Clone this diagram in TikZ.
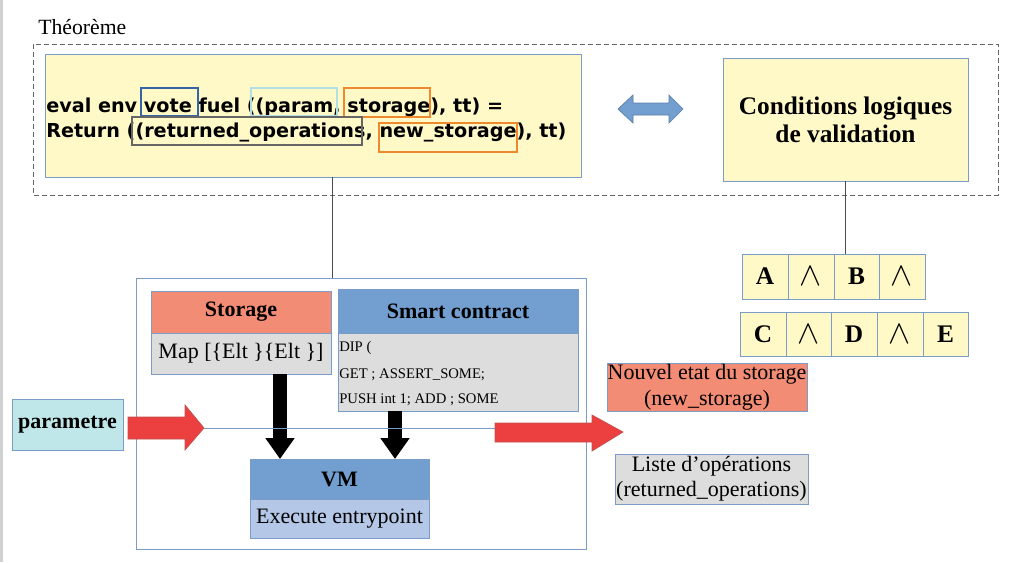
\documentclass[tikz,border=0pt]{standalone}
\usepackage{fontspec}
\setmainfont{Liberation Serif}
\newfontfamily\codefont{DejaVu Sans}
\usetikzlibrary{arrows.meta}
\definecolor{bordc}{HTML}{7A9CC6}
\definecolor{yel}{HTML}{FFF9C8}
\definecolor{salmon}{HTML}{F38C74}
\definecolor{hblue}{HTML}{729FCF}
\definecolor{lblue}{HTML}{B4C7E7}
\definecolor{lgray}{HTML}{DDDDDD}
\definecolor{cyanf}{HTML}{BFE6E8}
\definecolor{redA}{HTML}{EC3F3F}
\definecolor{redB}{HTML}{C0504D}
\definecolor{hlblue}{HTML}{3465A4}
\definecolor{hlcyan}{HTML}{B2DFE3}
\definecolor{hlorange}{HTML}{F0882E}
\definecolor{hlgray}{HTML}{666666}
\newcommand{\rbox}[7]{\node[#6, minimum width={0.75pt*(#4-#2)}, minimum height={0.75pt*(#5-#3)}] (#1) at ({(#2+#4)/2},{(#3+#5)/2}) {#7};}
\begin{document}
\begin{tikzpicture}[x=0.75pt,y=-0.75pt,
  box/.style={draw=bordc, line width=0.75pt, inner sep=0pt, outer sep=0pt},
  link/.style={draw=black!70, line width=0.75pt},
  bigfont/.style={font=\fontsize{16.5}{19.5}\selectfont},
  bigbold/.style={font=\fontsize{16.5}{19.5}\selectfont\bfseries},
  cellf/.style={font=\fontsize{19}{22}\selectfont\bfseries},
  wedgef/.style={font=\fontsize{27}{30}\selectfont},
  codef/.style={font=\fontsize{14.4}{18.75}\selectfont\codefont\bfseries, inner sep=0pt},
  smallf/.style={font=\fontsize{11}{13}\selectfont, inner sep=0pt},
  blackarrow/.style={line width=10.5pt, -{Triangle[length=15.75pt,width=21pt]}},
  redarrow/.style={fill=redA, draw=redB, line width=0.5pt},
  hl/.style={line width=1.5pt}]
\useasboundingbox (0,0) rectangle (1024,562);
\fill[white] (0,0) rectangle (1024,562);
\fill[black!18] (0,0) rectangle (3,562);

% Theoreme
\node[anchor=west, font=\fontsize{16.3}{19}\selectfont, inner sep=0pt] (titre) at (38,27) {Théorème};
\draw[gray!80!black, line width=0.75pt, dash pattern=on 3.75pt off 2.25pt] (33,44) rectangle (998,195);

% eval box
\rbox{eval}{45}{54}{581}{177}{box, fill=yel}{}
\node[codef, anchor=base west] (l1) at (46,112) {eval env vote fuel ((param, storage), tt) =};
\node[codef, anchor=base west] (l2) at (46,137) {Return ((returned\_operations, new\_storage), tt)};
\draw[hl, draw=hlblue] (141,88) rectangle (198,116);
\draw[hl, draw=hlcyan] (251,88) rectangle (337,116);
\draw[hl, draw=hlorange] (344,88) rectangle (430,117);
\draw[hl, draw=hlgray] (132,117) rectangle (362,145);
\draw[hl, draw=hlorange] (379,123) rectangle (517,152);

% double arrow
\draw[fill=hblue, draw=hblue!80!black, line width=0.5pt] (618,109) -- (633,95) -- (633,103) -- (669,103) -- (669,95) -- (683,109) -- (669,123) -- (669,115) -- (633,115) -- (633,123) -- cycle;

% conditions
\rbox{cond}{723}{58}{968}{181}{box, fill=yel, align=center, font=\fontsize{19}{21}\selectfont\bfseries}{Conditions logiques\\de validation}

% cells
\rbox{A}{742}{254}{788}{299}{box, fill=yel, cellf}{A}
\rbox{w1}{788}{254}{834}{299}{box, fill=yel, wedgef}{$\wedge$}
\rbox{B}{834}{254}{879}{299}{box, fill=yel, cellf}{B}
\rbox{w2}{879}{254}{925}{299}{box, fill=yel, wedgef}{$\wedge$}
\rbox{C}{740}{312}{786}{356}{box, fill=yel, cellf}{C}
\rbox{w3}{786}{312}{831}{356}{box, fill=yel, wedgef}{$\wedge$}
\rbox{D}{831}{312}{877}{356}{box, fill=yel, cellf}{D}
\rbox{w4}{877}{312}{923}{356}{box, fill=yel, wedgef}{$\wedge$}
\rbox{E}{923}{312}{968}{356}{box, fill=yel, cellf}{E}

% big box
\rbox{big}{136}{278}{586}{549}{box, fill=white}{}
\coordinate (c1) at (332,0);
\draw[link] (eval.south -| c1) -- (big.north -| c1);
\draw[link] (cond.south) -- (cond.south |- A.north);

% storage
\rbox{sth}{151}{291}{331}{333}{box, fill=salmon, bigbold}{Storage}
\rbox{stb}{151}{333}{331}{374}{box, fill=lgray, bigfont}{Map [\{Elt \}\{Elt \}]}
% smart contract
\rbox{sch}{338}{289}{578}{333}{box, fill=hblue, bigbold}{Smart contract}
\rbox{scb}{338}{333}{578}{411}{box, fill=lgray}{}
\node[smallf, anchor=base west] (s1) at (339,351) {DIP (};
\node[smallf, anchor=base west] (s2) at (339,378) {GET ; ASSERT\_SOME;};
\node[smallf, anchor=base west] (s3) at (339,403) {PUSH int 1; ADD ; SOME};
% VM
\rbox{vmh}{250}{459}{429}{499}{box, fill=hblue, bigbold}{VM}
\rbox{vmb}{250}{499}{429}{538}{box, fill=lblue, bigfont}{Execute entrypoint}

\coordinate (xa) at (280,0);
\coordinate (xb) at (395,0);
\draw[blackarrow] (stb.south -| xa) -- (vmh.north -| xa);
\draw[blackarrow] (scb.south -| xb) -- (vmh.north -| xb);

% parametre
\rbox{param}{12}{399}{123}{450}{box, fill=cyanf, bigbold}{parametre}
\coordinate (ltip) at (204,428);
\coordinate (rstart) at (495,428);
\draw[redarrow] (128,417) -- (185,417) -- (185,405) -- (ltip) -- (185,450) -- (185,439) -- (128,439) -- cycle;
\draw[bordc, line width=0.75pt] (ltip) -- (rstart);
\draw[redarrow] (rstart |- 0,423) -- (592,423) -- (592,415) -- (623,432) -- (592,451) -- (592,442) -- (495,442) -- cycle;

% outputs
\rbox{nouv}{607}{363}{807}{411}{box, fill=salmon, align=center, font=\fontsize{16.5}{19.5}\selectfont}{Nouvel etat du storage\\(new\_storage)}
\rbox{liste}{615}{454}{808}{504}{box, fill=lgray, align=center, font=\fontsize{16.5}{18.75}\selectfont}{Liste d’opérations\\(returned\_operations)}
\end{tikzpicture}
\end{document}
